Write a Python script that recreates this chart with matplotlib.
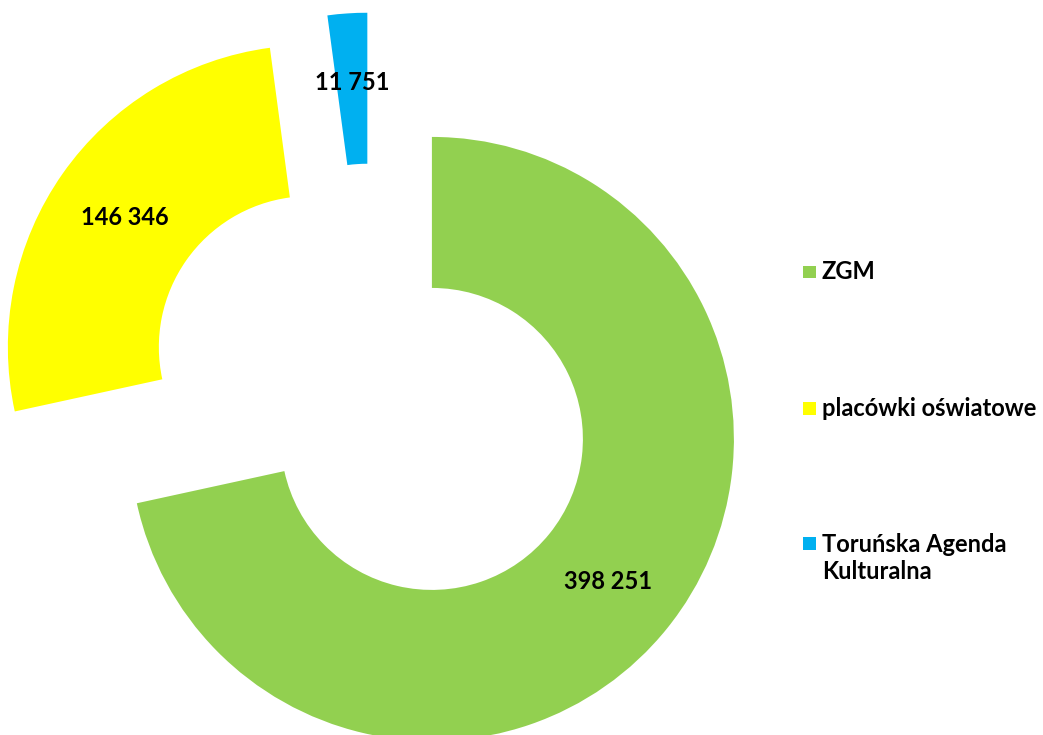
import matplotlib
matplotlib.use("Agg")
import matplotlib.pyplot as plt
from matplotlib.patches import Rectangle

plt.rcParams['font.family'] = ['Lato', 'DejaVu Sans']

# dane
categories = ["ZGM", "placówki oświatowe", "Toruńska Agenda\nKulturalna"]
values = [398251, 146346, 11751]
colors = ["#92D050", "#FFFF00", "#00B0F0"]

W, H = 1043, 735
R_PX = 302.0                 # promień zewnętrzny w pikselach
CX, CY = 372.4, 391.0        # środek pierścienia (piksele, od góry)

fig = plt.figure(figsize=(W / 100, H / 100), dpi=100)
ax = fig.add_axes([0, 0, 1, 1])

vals_iter = iter(values)


def fmt_val(pct):
    v = next(vals_iter)
    return f"{v:,}".replace(",", " ")


wedges, texts, autotexts = ax.pie(
    values,
    colors=colors,
    startangle=90,
    counterclock=False,
    radius=1.0,
    explode=[0.253] * len(values),
    wedgeprops=dict(width=0.5, linewidth=0),
    autopct=fmt_val,
    pctdistance=0.75,
    textprops=dict(fontsize=17, fontweight="bold", color="black"),
)

# etykieta najmniejszego wycinka nieco wyżej, jak w oryginale
x, y = autotexts[2].get_position()
autotexts[2].set_position((x, y + 6 / R_PX))

ax.set_aspect("auto")
ax.set_xlim(-CX / R_PX, (W - CX) / R_PX)
ax.set_ylim(-(H - CY) / R_PX, CY / R_PX)
ax.axis("off")

# legenda (ręcznie, żeby zachować duże odstępy jak w oryginale)
legend_y = [272, 408, 558]
for lab, col, y in zip(categories, colors, legend_y):
    sq_y = y if "\n" not in lab else y - 15
    fig.patches.append(Rectangle((803 / W, 1 - (sq_y + 6.5) / H), 13 / W, 13 / H,
                                 transform=fig.transFigure, facecolor=col,
                                 edgecolor="none"))
    fig.text(822 / W, 1 - y / H, lab, ha="left", va="center", fontsize=17,
             fontweight="bold", color="black", linespacing=1.25)

fig.savefig("out.png", dpi=100, facecolor="white")
